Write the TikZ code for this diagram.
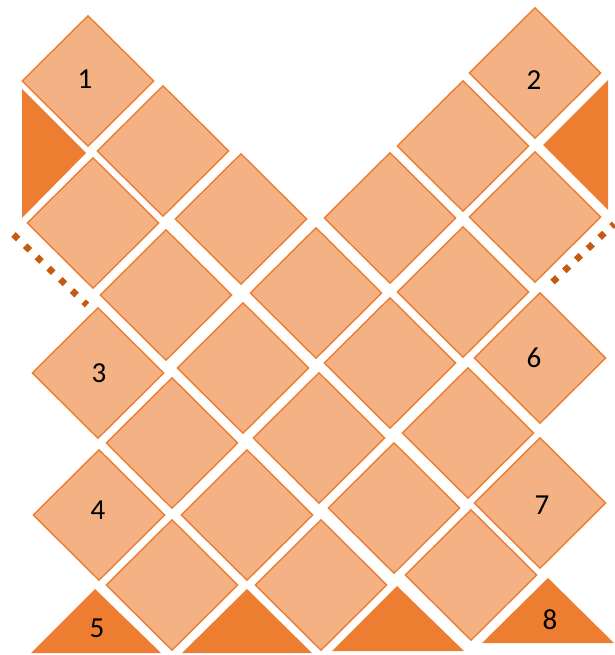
\documentclass[tikz,border=0pt]{standalone}
\usepackage{fontspec}
\setmainfont{Carlito}
\usetikzlibrary{shapes.geometric}

\definecolor{peach}{HTML}{F4B183}
\definecolor{accent}{HTML}{ED7D31}
\definecolor{rust}{HTML}{C55A11}

\begin{document}
\begin{tikzpicture}[
      x=1pt, y=-1pt,
      tile/.style={diamond, draw=accent, fill=peach, line width=1.4pt, inner sep=0pt, minimum width=132pt, minimum height=131pt},
      wedge/.style={fill=accent, draw=none},
      num/.style={inner sep=0pt, font=\fontsize{29}{30}\selectfont},
      dots/.style={draw=rust, line width=6.5pt, dash pattern=on 6.5pt off 9.7pt}
    ]
    \useasboundingbox (0,0) rectangle (614,655);

    % row by row, top to bottom
    \node[tile] (t_1) at (88,81) {};
    \node[tile] (t_2) at (535,73) {};
    \node[tile] (t_1b) at (163,151) {};
    \node[tile] (t_2b) at (463,146) {};
    \node[tile] (t_1c) at (93,223) {};
    \node[tile] (t_1d) at (241,219) {};
    \node[tile] (t_2d) at (390,218) {};
    \node[tile] (t_2c) at (535,217) {};
    \node[tile] (t_x1) at (166,295) {};
    \node[tile] (t_x2) at (316,293) {};
    \node[tile] (t_x3) at (463,292) {};
    \node[tile] (t_3) at (98,373) {};
    \node[tile] (t_y1) at (243,368) {};
    \node[tile] (t_y2) at (390,363) {};
    \node[tile] (t_6) at (540,358) {};
    \node[tile] (t_z1) at (172,443) {};
    \node[tile] (t_z2) at (319,438) {};
    \node[tile] (t_z3) at (468,433) {};
    \node[tile] (t_4) at (99,515) {};
    \node[tile] (t_w1) at (247,515) {};
    \node[tile] (t_w2) at (394,508) {};
    \node[tile] (t_7) at (540,503) {};
    \node[tile] (t_v1) at (172,585) {};
    \node[tile] (t_v2) at (321,585) {};
    \node[tile] (t_v3) at (471,575) {};

    % half tiles
    \fill[wedge] (22,89) -- (86,153) -- (22,218) -- cycle;
    \fill[wedge] (608,80) -- (543,145) -- (608,210) -- cycle;
    \fill[wedge] (95,589) -- (31,653) -- (161,653) -- cycle;
    \fill[wedge] (247,589) -- (182,653) -- (312,653) -- cycle;
    \fill[wedge] (397,586) -- (332,651) -- (464,651) -- cycle;
    \fill[wedge] (548,578) -- (482,643) -- (614,643) -- cycle;

    % numbers
    \node[num] (n_1) at (85,79) {1};
    \node[num] (n_2) at (534,80) {2};
    \node[num] (n_3) at (99,373) {3};
    \node[num] (n_4) at (98,510) {4};
    \node[num] (n_5) at (97,628) {5};
    \node[num] (n_6) at (534,358) {6};
    \node[num] (n_7) at (542,505) {7};
    \node[num] (n_8) at (550,620) {8};

    \draw[dots] (13.5,234.5) -- (87,305);
    \draw[dots] (552.5,282) -- (614,224);
  \end{tikzpicture}
\end{document}
